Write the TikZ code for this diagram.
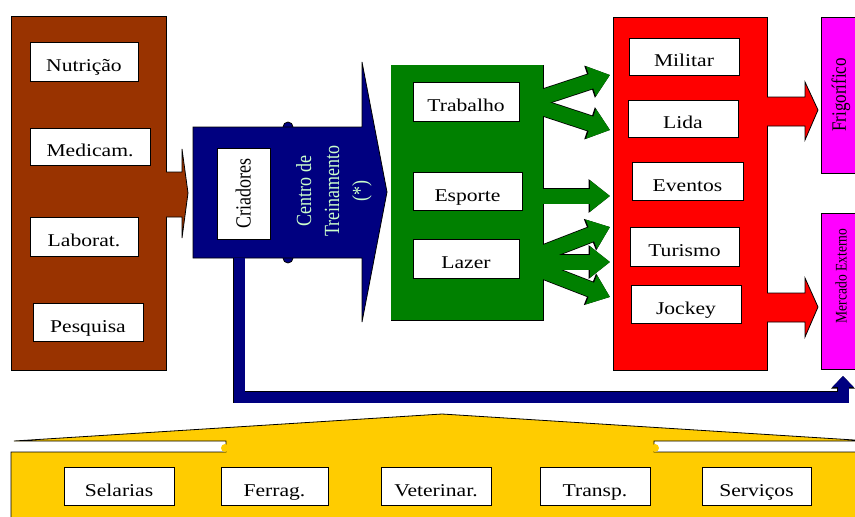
\documentclass[tikz,border=0pt]{standalone}
\usepackage{fontspec}
\setmainfont{Liberation Serif}
\usepackage{graphicx}
\usetikzlibrary{arrows.meta,calc}
\definecolor{brownC}{HTML}{993300}
\definecolor{navyC}{HTML}{000080}
\definecolor{greenC}{HTML}{008000}
\definecolor{redC}{HTML}{FF0000}
\definecolor{magC}{HTML}{FF00FF}
\definecolor{yelC}{HTML}{FFCC00}
\definecolor{paleC}{HTML}{CCFFCC}
\newcommand\hlab[1]{\raisebox{-5.5pt}{\scalebox{1.2}[1]{#1}}}
\newcommand\vlab[1]{\scalebox{1}[1.2]{#1}}
\begin{document}
\begin{tikzpicture}[x=1pt,y=-1pt,
  wh/.style 2 args={minimum width=#1pt,minimum height=#2pt},
  lbl/.style={draw=black,fill=white,line width=0.8pt,inner sep=0pt,
    font=\fontsize{18}{20}\selectfont,text height=12pt,text depth=3pt},
  cont/.style={draw=black,line width=0.8pt,inner sep=0pt},
  gout/.style={draw=black,line width=16.6pt,-{Triangle[length=21.5pt,width=32.5pt]}},
  gin/.style={draw=greenC,line width=15pt,-{Triangle[length=20pt,width=30pt]}},
  bout/.style={draw=black,line width=12.6pt,line join=miter,-{Triangle[length=12.5pt,width=23pt]}},
  bin/.style={draw=navyC,line width=11pt,line join=miter,-{Triangle[length=11pt,width=20.5pt]}},
  outl/.style={draw=black,line width=0.8pt}]
\useasboundingbox (0,0) rectangle (855,517);
\clip (0,0) rectangle (855,517);

% ---------- brown block ----------
\node[cont,fill=brownC,wh={155}{354}] (brn) at (88.5,193) {};
\fill[brownC] (165,172) -- (182,172) -- (182,149) -- (188,193) -- (182,238) -- (182,217) -- (165,217) -- cycle;
\draw[outl] (166,172) -- (182,172) -- (182,149) -- (188,193) -- (182,238) -- (182,217) -- (166,217);
\node[lbl,wh={108}{39}] (nut) at (84,61.5) {\hlab{Nutrição}};
\node[lbl,wh={120}{37}] (med) at (90,146.5) {\hlab{Medicam.}};
\node[lbl,wh={108}{39}] (lab) at (84,236.5) {\hlab{Laborat.}};
\node[lbl,wh={110}{38}] (pes) at (88,322) {\hlab{Pesquisa}};

% ---------- blue block ----------
\filldraw[fill=navyC,draw=black,line width=0.8pt] (288,127) circle[radius=5pt];
\filldraw[fill=navyC,draw=black,line width=0.8pt] (288,258) circle[radius=5pt];
\filldraw[fill=navyC,draw=black,line width=0.8pt] (193,127) -- (362,127) -- (362,62) -- (387,192) -- (362,322) -- (362,258) -- (193,258) -- cycle;
\node[lbl,rotate=90,wh={91}{53},text height=14pt,text depth=0pt] (cri) at (243.5,193.5) {\vlab{Criadores}};
\node[rotate=90,align=center,text=paleC,inner sep=0pt,font=\fontsize{18}{28}\selectfont] (ct) at (334,191) {\vlab{Centro de}\\\vlab{Treinamento}\\\vlab{(*)}};

% ---------- green block ----------
\node[cont,fill=greenC,wh={152}{255}] (grn) at (467,192.5) {};
\coordinate (g1s) at (530,101.3); \coordinate (g1e) at (610,75);
\coordinate (g2s) at (530,103.7); \coordinate (g2e) at (610,130);
\coordinate (g3s) at (530,196);   \coordinate (g3e) at (610,196);
\coordinate (g4s) at (530,258);   \coordinate (g4e) at (610,227);
\coordinate (g5s) at (530,262);   \coordinate (g5e) at (610,262);
\coordinate (g6s) at (530,266);   \coordinate (g6e) at (610,297);
\foreach \a in {1,...,6} {\draw[gout] (g\a s) -- (g\a e);}
\foreach \a in {1,...,6} {\draw[gin] (g\a s) -- (g\a e);}
\fill[greenC] ($(grn.south west)+(0.45,-0.45)$) rectangle ($(grn.north east)+(-0.45,0.45)$);
\node[lbl,wh={106}{39}] (tra) at (466,101.5) {\hlab{Trabalho}};
\node[lbl,wh={109}{38}] (esp) at (467.5,191) {\hlab{Esporte}};
\node[lbl,wh={106}{39}] (laz) at (466,258.5) {\hlab{Lazer}};

% ---------- red block ----------
\node[cont,fill=redC,wh={154}{353}] (red) at (690,193.5) {};
\fill[redC] (766,97) -- (805,97) -- (805,82) -- (818,110) -- (805,140) -- (805,126) -- (766,126) -- cycle;
\draw[outl] (767,97) -- (805,97) -- (805,82) -- (818,110) -- (805,140) -- (805,126) -- (767,126);
\fill[redC] (766,293) -- (805,293) -- (805,278) -- (818,307) -- (805,337) -- (805,322) -- (766,322) -- cycle;
\draw[outl] (767,293) -- (805,293) -- (805,278) -- (818,307) -- (805,337) -- (805,322) -- (767,322);
\node[lbl,wh={110}{37}] (mil) at (684,56.5) {\hlab{Militar}};
\node[lbl,wh={110}{37}] (lid) at (683,118.5) {\hlab{Lida}};
\node[lbl,wh={111}{38}] (eve) at (687.5,181) {\hlab{Eventos}};
\node[lbl,wh={109}{39}] (tur) at (684.5,246.5) {\hlab{Turismo}};
\node[lbl,wh={110}{38}] (joc) at (686,304) {\hlab{Jockey}};

% ---------- magenta blocks ----------
\node[cont,fill=magC,rotate=90,wh={156}{40},font=\fontsize{17}{20}\selectfont] (frig) at (841,95) {\vlab{Frigorífico}};
\node[cont,fill=magC,rotate=90,wh={156}{40},font=\fontsize{13.5}{16}\selectfont] (merc) at (841,291) {\hspace*{30pt}\vlab{Mercado Externo}};

% ---------- blue connector ----------
\coordinate (b1) at (239,258);
\coordinate (b2) at (239,397);
\coordinate (b3) at (843,397);
\coordinate (b4) at (843,376);
\draw[bout] (b1) -- (b2) -- (b3) -- (b4);
\draw[bin] (b1) -- (b2) -- (b3) -- (b4);

% ---------- yellow block ----------
\filldraw[fill=yelC,draw=black,line width=0.8pt] (11,530) -- (11,452) -- (226,452) -- (226,441) -- (14,441) -- (442,414) -- (870,441) -- (654,441) -- (654,452) -- (870,452) -- (870,530) -- cycle;
\fill[yelC] (225,448) circle[radius=4pt];
\fill[yelC] (655,448) circle[radius=4pt];
\node[lbl,wh={110}{38}] (sel) at (119,486) {\hlab{Selarias}};
\node[lbl,wh={107}{38}] (fer) at (274.5,486) {\hlab{Ferrag.}};
\node[lbl,wh={110}{38}] (vet) at (436,486) {\hlab{Veterinar.}};
\node[lbl,wh={110}{38}] (trn) at (595,486) {\hlab{Transp.}};
\node[lbl,wh={109}{38}] (ser) at (756.5,486) {\hlab{Serviços}};
\end{tikzpicture}
\end{document}
